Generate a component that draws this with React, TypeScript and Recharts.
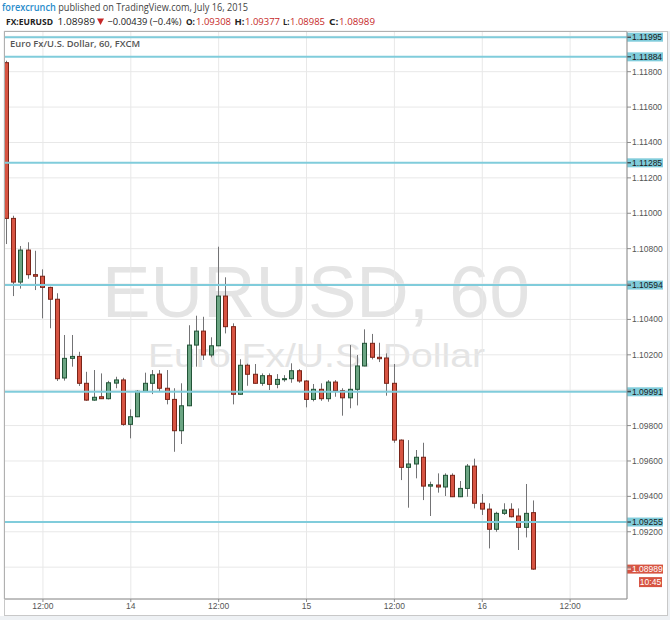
import React from 'react';
import { ComposedChart, Bar, XAxis, YAxis, CartesianGrid, ReferenceLine } from 'recharts';

// EUR/USD hourly candles, first bar = Jul 13 07:00 (hours counted from Jul 13 00:00)
const startHour = 7;

const opens = [
  1.11851, 1.10971, 1.10611, 1.10792, 1.10653, 1.10644, 1.10581, 1.10514, 1.10069, 1.10180,
  1.10191, 1.10039, 1.09944, 1.09963, 1.09952, 1.10040, 1.10058, 1.09807, 1.09850, 1.09994,
  1.10039, 1.10091, 1.10011, 1.09948, 1.09771, 1.09912, 1.10255, 1.10334, 1.10199, 1.10251,
  1.10532, 1.10359, 1.09977, 1.10141, 1.10090, 1.10039, 1.10082, 1.10033, 1.10061, 1.10065,
  1.10110, 1.10052, 1.09948, 1.10005, 1.09952, 1.10046, 1.09997, 1.09957, 1.10005, 1.10137,
  1.10265, 1.10186, 1.10182, 1.10039, 1.09718, 1.09564, 1.09583, 1.09621, 1.09458, 1.09464,
  1.09453, 1.09519, 1.09398, 1.09445, 1.09571, 1.09361, 1.09328, 1.09214, 1.09304, 1.09327,
  1.09289, 1.09225, 1.09308,
];
const highs = [
  1.11862, 1.10986, 1.10815, 1.10836, 1.10788, 1.10683, 1.10585, 1.10548, 1.10312, 1.10312,
  1.10217, 1.10104, 1.10114, 1.10095, 1.10053, 1.10076, 1.10070, 1.09892, 1.10000, 1.10099,
  1.10114, 1.10114, 1.10114, 1.10011, 1.10039, 1.10367, 1.10421, 1.10415, 1.10299, 1.10811,
  1.10638, 1.10378, 1.10175, 1.10150, 1.10148, 1.10095, 1.10095, 1.10091, 1.10085, 1.10152,
  1.10119, 1.10057, 1.10035, 1.10039, 1.10057, 1.10057, 1.10011, 1.10255, 1.10199, 1.10344,
  1.10318, 1.10268, 1.10208, 1.10148, 1.09722, 1.09718, 1.09662, 1.09703, 1.09483, 1.09530,
  1.09530, 1.09530, 1.09487, 1.09583, 1.09613, 1.09413, 1.09361, 1.09313, 1.09361, 1.09361,
  1.09332, 1.09470, 1.09377,
];
const lows = [
  1.10826, 1.10532, 1.10574, 1.10630, 1.10566, 1.10406, 1.10350, 1.10052, 1.10054, 1.10133,
  1.10024, 1.09940, 1.09940, 1.09950, 1.09948, 1.10011, 1.09799, 1.09728, 1.09848, 1.09990,
  1.09978, 1.09990, 1.09920, 1.09652, 1.09696, 1.09910, 1.10133, 1.10171, 1.10186, 1.10249,
  1.10321, 1.09920, 1.09975, 1.10025, 1.10037, 1.10025, 1.10001, 1.10011, 1.10048, 1.10042,
  1.10042, 1.09903, 1.09937, 1.09940, 1.09935, 1.09963, 1.09856, 1.09898, 1.09914, 1.10135,
  1.10174, 1.10159, 1.09969, 1.09703, 1.09492, 1.09336, 1.09502, 1.09379, 1.09289, 1.09421,
  1.09402, 1.09396, 1.09396, 1.09398, 1.09332, 1.09295, 1.09106, 1.09200, 1.09295, 1.09281,
  1.09097, 1.09168, 1.08985,
];
const closes = [
  1.10971, 1.10611, 1.10792, 1.10653, 1.10644, 1.10581, 1.10514, 1.10065, 1.10180, 1.10191,
  1.10039, 1.09944, 1.09960, 1.09952, 1.10042, 1.10058, 1.09807, 1.09850, 1.09994, 1.10039,
  1.10087, 1.10011, 1.09948, 1.09771, 1.09912, 1.10255, 1.10334, 1.10199, 1.10251, 1.10532,
  1.10359, 1.09977, 1.10141, 1.10090, 1.10039, 1.10082, 1.10033, 1.10061, 1.10065, 1.10110,
  1.10052, 1.09948, 1.10005, 1.09952, 1.10046, 1.09997, 1.09957, 1.10005, 1.10137, 1.10265,
  1.10186, 1.10178, 1.10039, 1.09718, 1.09564, 1.09583, 1.09621, 1.09458, 1.09466, 1.09453,
  1.09519, 1.09398, 1.09445, 1.09571, 1.09361, 1.09328, 1.09214, 1.09304, 1.09323, 1.09285,
  1.09225, 1.09304, 1.08989,
];

const yTicks = [
  1.09, 1.092, 1.094, 1.096, 1.098, 1.1, 1.102, 1.104, 1.106, 1.108,
  1.11, 1.112, 1.114, 1.116, 1.118, 1.12,
];
const xTicks = [12, 24, 36, 48, 60, 72, 84];
const xTickLabels = ['12:00', '14', '12:00', '15', '12:00', '16', '12:00'];

// horizontal levels drawn on the chart
const levels = [1.11995, 1.11884, 1.11285, 1.10594, 1.09991, 1.09255];
const lastPrice = 1.08989;
const countdown = '10:45';

const UP = '#6ba583';
const DOWN = '#d75442';
const UP_BORDER = '#225437';
const DOWN_BORDER = '#7a2418';
const WICK = '#737375';
const LEVEL = '#80ccdb';
const AXIS = '#8c8c8c';

const data = opens.map((o, i) => ({
  t: startHour + i,
  open: o,
  high: highs[i],
  low: lows[i],
  close: closes[i],
}));

// tick labels sitting under a price tag are covered in the original
const tagged = [...levels, lastPrice];
const yTickText = (v: number) =>
  tagged.some((p) => Math.abs(p - v) < 0.00035) ? '' : v.toFixed(5);

const Candle = (props: any) => {
  const { x, y, width, height, payload } = props;
  if (x == null || !payload) return null;
  const { open, close, high, low } = payload;
  const top = Math.min(y, y + height);
  const h = Math.abs(height);
  const k = high > low ? h / (high - low) : 0;
  const py = (p: number) => top + (high - p) * k;
  const cx = Math.floor(x + width / 2) + 0.5;
  const up = close >= open;
  const bTop = py(Math.max(open, close));
  const bH = Math.max(py(Math.min(open, close)) - bTop, 1);
  return (
    <g>
      <line x1={cx} x2={cx} y1={top} y2={top + h} stroke={WICK} strokeWidth={1} />
      <rect
        x={cx - 2}
        y={bTop}
        width={4}
        height={bH}
        fill={up ? UP : DOWN}
        stroke={up ? UP_BORDER : DOWN_BORDER}
        strokeWidth={1}
      />
    </g>
  );
};

const PriceTag = ({ viewBox, text, bg, fg, extra }: any) => {
  if (!viewBox) return null;
  const right = viewBox.x + viewBox.width;
  const cy = viewBox.y;
  return (
    <g>
      <rect x={right} y={cy - 4.5} width={36} height={9} fill={bg} />
      <line x1={right} x2={right + 4} y1={cy} y2={cy} stroke={fg} strokeWidth={1} />
      <text x={right + 5} y={cy + 3} fontSize={8.5} fill={fg} fontFamily="Liberation Sans">
        {text}
      </text>
      {extra && (
        <g>
          <rect x={right + 12} y={cy + 8} width={23} height={10} fill={bg} />
          <text x={right + 23.5} y={cy + 16} fontSize={8.5} fill={fg} textAnchor="middle" fontFamily="Liberation Sans">
            {extra}
          </text>
        </g>
      )}
    </g>
  );
};

const hdr = { fontFamily: 'Open Sans', fontSize: 9.5 };

export default function App() {
  return (
    <div style={{ position: 'absolute', left: 0, top: 0, width: 670, height: 620, background: '#fff', overflow: 'hidden' }}>
      <svg width={670} height={620} style={{ position: 'absolute', left: 0, top: 0 }}>
        <rect x={0} y={616} width={670} height={4} fill="#eef1f4" />
        <rect x={668} y={31} width={2} height={589} fill="#eef1f4" />
        <text x={102} y={317} fontSize={72} fill="#e4e4e4" fontFamily="Liberation Sans" textLength={428} lengthAdjust="spacingAndGlyphs">
          EURUSD, 60
        </text>
        <text x={148} y={367} fontSize={33} fill="#e4e4e4" fontFamily="Liberation Sans" textLength={337} lengthAdjust="spacingAndGlyphs">
          Euro Fx/U.S. Dollar
        </text>
      </svg>
      <div style={{ position: 'absolute', left: 0, top: 0 }}>
        <ComposedChart width={670} height={620} data={data} margin={{ top: 31, right: 0, bottom: 0, left: 4 }}>
          <CartesianGrid stroke="#e8e8e8" />
          <XAxis
            dataKey="t"
            type="number"
            domain={[6.68, 91.77]}
            allowDataOverflow
            ticks={xTicks}
            interval={0}
            tickFormatter={(v: number) => xTickLabels[xTicks.indexOf(v)]}
            height={21}
            tickSize={3}
            tickMargin={1}
            axisLine={{ stroke: AXIS }}
            tickLine={{ stroke: AXIS }}
            tick={{ fontSize: 8.5, fill: '#555', fontFamily: 'Liberation Sans' }}
          />
          <YAxis
            orientation="right"
            domain={[1.0882, 1.1203]}
            allowDataOverflow
            ticks={yTicks}
            interval={0}
            tickFormatter={yTickText}
            width={43}
            tickSize={4}
            tickMargin={1}
            axisLine={{ stroke: AXIS }}
            tickLine={{ stroke: AXIS }}
            tick={{ fontSize: 8.5, fill: '#555', fontFamily: 'Liberation Sans', textAnchor: 'start' }}
          />
          <Bar dataKey={(d: any) => [d.low, d.high]} shape={Candle} barSize={5} isAnimationActive={false} />
          {levels.map((v) => (
            <ReferenceLine
              key={v}
              y={v}
              stroke={LEVEL}
              strokeWidth={2}
              label={(p: any) => <PriceTag viewBox={p.viewBox} text={v.toFixed(5)} bg={LEVEL} fg="#1a1a1a" />}
            />
          ))}
          <ReferenceLine
            y={lastPrice}
            stroke="none"
            strokeOpacity={0}
            label={(p: any) => <PriceTag viewBox={p.viewBox} text={lastPrice.toFixed(5)} bg={DOWN} fg="#fff" extra={countdown} />}
          />
        </ComposedChart>
      </div>
      <svg width={670} height={620} style={{ position: 'absolute', left: 0, top: 0, pointerEvents: 'none' }}>
        <rect x={4.5} y={31.5} width={663} height={584} fill="none" stroke="#c8c8c8" />
        <line x1={4.5} x2={627} y1={31.5} y2={31.5} stroke="#b0b0b0" />
        <line x1={4.5} x2={4.5} y1={31.5} y2={599} stroke="#b0b0b0" />
        <text x={10} y={47} {...hdr} fill="#555" fontWeight={600} textLength={130} lengthAdjust="spacingAndGlyphs">
          Euro Fx/U.S. Dollar, 60, FXCM
        </text>
        <text x={2} y={10.5} {...hdr} fontSize={10} fill="#444" textLength={246} lengthAdjust="spacingAndGlyphs">
          <tspan fill="#2a8ccb" fontWeight={600}>forexcrunch</tspan> published on TradingView.com, July 16, 2015
        </text>
        <text x={6} y={25} {...hdr} fill="#222" fontWeight={700} textLength={47} lengthAdjust="spacingAndGlyphs">FX:EURUSD</text>
        <text x={57.5} y={25} {...hdr} fill="#222" textLength={37.5} lengthAdjust="spacingAndGlyphs">1.08989</text>
        <polygon points="97,18.5 104,18.5 100.5,25" fill="#c62828" />
        <text x={107.5} y={25} {...hdr} fill="#222" textLength={74} lengthAdjust="spacingAndGlyphs">−0.00439 (−0.4%)</text>
        <text x={186} y={25} {...hdr} fill="#222" fontWeight={700} textLength={9} lengthAdjust="spacingAndGlyphs">O:</text>
        <text x={196} y={25} {...hdr} fill="#c62828" textLength={35} lengthAdjust="spacingAndGlyphs">1.09308</text>
        <text x={234.5} y={25} {...hdr} fill="#222" fontWeight={700} textLength={10} lengthAdjust="spacingAndGlyphs">H:</text>
        <text x={245} y={25} {...hdr} fill="#c62828" textLength={35} lengthAdjust="spacingAndGlyphs">1.09377</text>
        <text x={283} y={25} {...hdr} fill="#222" fontWeight={700} textLength={6.5} lengthAdjust="spacingAndGlyphs">L:</text>
        <text x={290} y={25} {...hdr} fill="#c62828" textLength={35} lengthAdjust="spacingAndGlyphs">1.08985</text>
        <text x={329} y={25} {...hdr} fill="#222" fontWeight={700} textLength={9.5} lengthAdjust="spacingAndGlyphs">C:</text>
        <text x={339} y={25} {...hdr} fill="#c62828" textLength={36} lengthAdjust="spacingAndGlyphs">1.08989</text>
      </svg>
    </div>
  );
}
